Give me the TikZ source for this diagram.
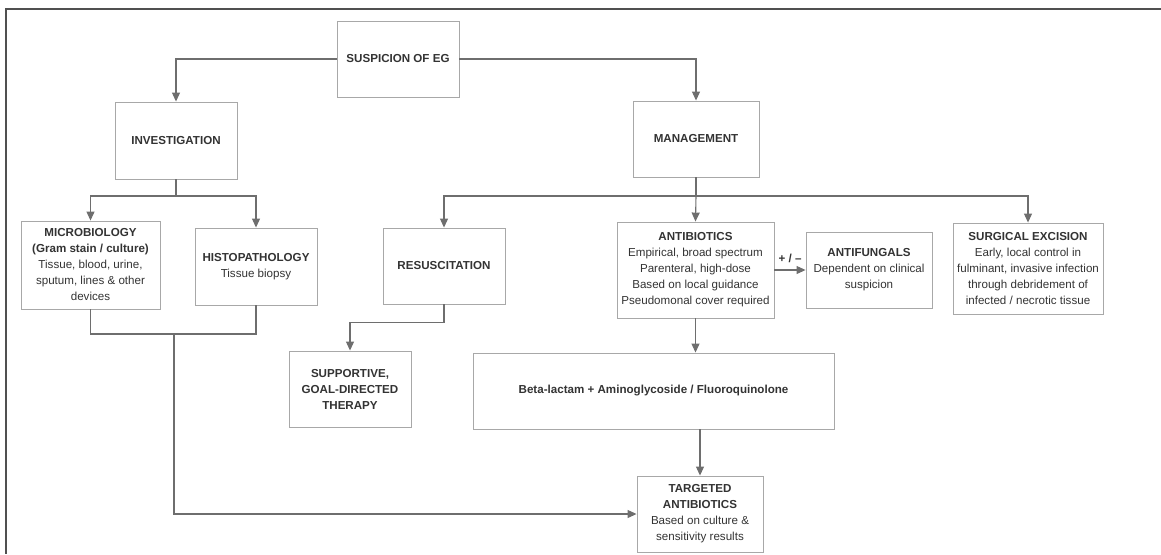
\documentclass[tikz,border=0pt]{standalone}
\usepackage{fontspec}
\setmainfont{Liberation Sans}
\usetikzlibrary{arrows.meta}
\definecolor{framegrey}{HTML}{505050}
\definecolor{boxgrey}{HTML}{A8A8A8}
\definecolor{linegrey}{HTML}{6E6E6E}
\definecolor{textgrey}{HTML}{333333}
\tikzstyle{box}=[rectangle, draw=boxgrey, line width=0.9pt, text=textgrey, align=center, inner sep=2pt, font=\fontsize{11.6}{16}\selectfont]
\tikzstyle{arr}=[draw=linegrey, line width=1.1pt, -{Triangle[length=9pt,width=8pt]}]
\tikzstyle{ln}=[draw=linegrey, line width=1.1pt]
\newcommand{\boxnode}{\node[box]}

\begin{document}
\begin{tikzpicture}[x=1pt, y=-1pt]
\useasboundingbox (0,0) rectangle (1161,554);
%frame
\draw[framegrey, line width=1.2pt] (1161,9) -- (6,9) -- (6,554);
%boxes
\boxnode[minimum width=122, minimum height=76] (sus) at (398,59){\textbf{SUSPICION OF EG}};
\boxnode[minimum width=122, minimum height=77] (inv) at (176,140.5){\textbf{INVESTIGATION}};
\boxnode[minimum width=126, minimum height=76] (mgmt) at (696,139){\textbf{MANAGEMENT}};
\boxnode[minimum width=139, minimum height=88] (micro) at (90.5,265){\textbf{MICROBIOLOGY}\\\textbf{(Gram stain / culture)}\\Tissue, blood, urine,\\sputum, lines \& other\\devices};
\boxnode[minimum width=122, minimum height=77] (histo) at (256,266.5){\textbf{HISTOPATHOLOGY}\\Tissue biopsy};
\boxnode[minimum width=122, minimum height=76] (resus) at (444,266){\textbf{RESUSCITATION}};
\boxnode[minimum width=157, minimum height=96] (anti) at (695.5,270){\textbf{ANTIBIOTICS}\\Empirical, broad spectrum\\Parenteral, high-dose\\Based on local guidance\\Pseudomonal cover required};
\boxnode[minimum width=126, minimum height=76] (fung) at (869,270){\textbf{ANTIFUNGALS}\\Dependent on clinical\\suspicion};
\boxnode[minimum width=150, minimum height=91] (surg) at (1028,268.5){\textbf{SURGICAL EXCISION}\\Early, local control in\\fulminant, invasive infection\\through debridement of\\infected / necrotic tissue};
\boxnode[minimum width=122, minimum height=76] (sup) at (350,389){\textbf{SUPPORTIVE,}\\\textbf{GOAL-DIRECTED}\\\textbf{THERAPY}};
\boxnode[minimum width=361, minimum height=76] (beta) at (653.5,391){\textbf{Beta-lactam + Aminoglycoside / Fluoroquinolone}};
\boxnode[minimum width=126, minimum height=76] (targ) at (700,514){\textbf{TARGETED}\\\textbf{ANTIBIOTICS}\\Based on culture \&\\sensitivity results};
%splits
\coordinate (invsplit) at (176,196);
\coordinate (mgmtsplit) at (696,196);
\coordinate (labsplit) at (174,334);
%arrows
\draw[arr] (sus.west) -| (inv.north);
\draw[arr] (sus.east) -| (mgmt.north);
\draw[ln] (inv.south) -- (invsplit);
\draw[arr] (invsplit) -| (micro.north);
\draw[arr] (invsplit) -| (histo.north);
\draw[ln] (mgmt.south) -- (mgmtsplit);
\draw[arr] (mgmtsplit) -| (resus.north);
\draw[arr] (mgmtsplit) -- (anti.north);
\draw[arr] (mgmtsplit) -| (surg.north);
\draw[arr] (anti.east) -- node[above, text=textgrey, font=\fontsize{11.6}{14}\selectfont\bfseries, yshift=3pt]{+ / --} (fung.west);
\draw[arr] (resus.south) -- ++(0,18) -| (sup.north);
\draw[arr] (anti.south) -- (anti.south |- beta.north);
\draw[arr] (targ.north |- beta.south) -- (targ.north);
\draw[ln] (micro.south) |- (labsplit) -| (histo.south);
\draw[arr] (labsplit) |- (targ.west);
\end{tikzpicture}
\end{document}
